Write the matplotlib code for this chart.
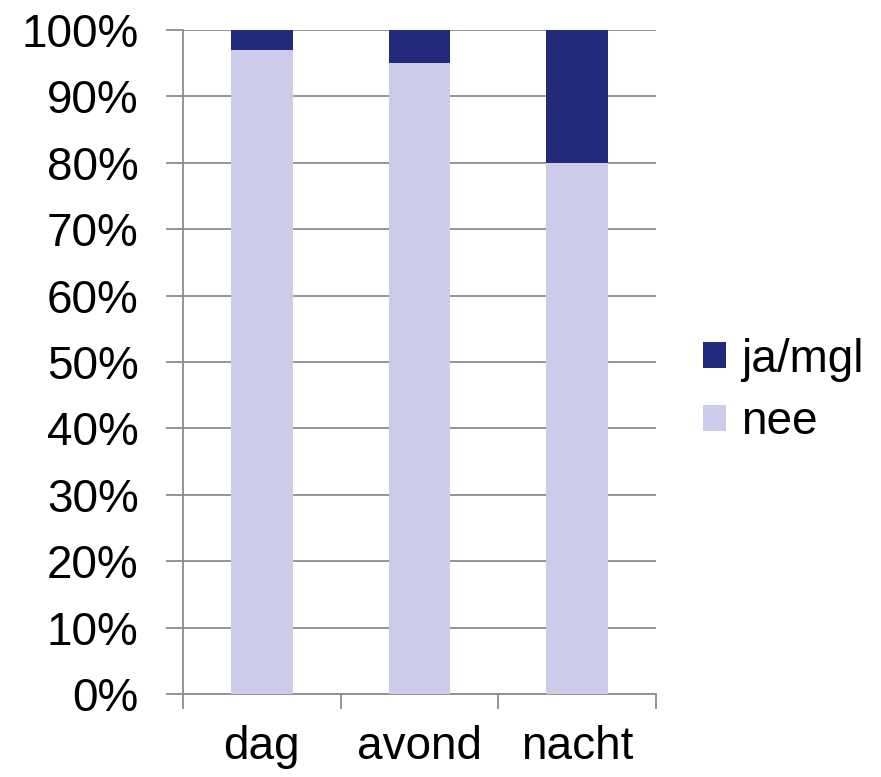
import matplotlib
matplotlib.use("Agg")
import matplotlib.pyplot as plt
from matplotlib.ticker import FixedLocator, PercentFormatter

plt.rcParams['font.family'] = ['Liberation Sans', 'DejaVu Sans']

categories = ["dag", "avond", "nacht"]
nee = [97, 95, 80]
ja_mgl = [3, 5, 20]

navy = "#232a7c"
lilac = "#ccccea"
grid_c = "#8c8c8c"

fig = plt.figure(figsize=(8.81, 7.77), dpi=100)
ax = fig.add_axes([0.2077, 0.1068, 0.7446 - 0.2077, 0.9614 - 0.1068])

x = list(range(len(categories)))
width = 0.39
ax.bar(x, nee, width, color=lilac, label="nee", zorder=3)
ax.bar(x, ja_mgl, width, bottom=nee, color=navy, label="ja/mgl", zorder=3)

ax.set_xlim(-0.5, len(categories) - 0.5)
ax.set_ylim(0, 100)
ax.set_yticks(range(0, 101, 10))
ax.yaxis.set_major_formatter(PercentFormatter(decimals=0))
ax.yaxis.grid(True, color=grid_c, linewidth=1.3, zorder=0)

for s in ("top", "right"):
    ax.spines[s].set_visible(False)
for s in ("left", "bottom"):
    ax.spines[s].set_color(grid_c)
    ax.spines[s].set_linewidth(1.3)

ax.tick_params(axis="y", length=12, width=1.3, color=grid_c, pad=20,
               labelsize=33)
ax.set_xticks(x)
ax.set_xticklabels(categories)
ax.tick_params(axis="x", which="major", length=0, pad=22, labelsize=33)
ax.xaxis.set_minor_locator(FixedLocator([-0.5, 0.5, 1.5, 2.5]))
ax.tick_params(axis="x", which="minor", length=11, width=1.3, color=grid_c)

handles, labels = ax.get_legend_handles_labels()
leg = fig.legend(handles[::-1], labels[::-1], loc="center left",
                 bbox_to_anchor=(0.798, 0.497), frameon=False, fontsize=33,
                 handlelength=0.5, handleheight=0.5, handletextpad=0.33,
                 labelspacing=0.4, borderaxespad=0, borderpad=0)

fig.savefig("out.png", dpi=100)
